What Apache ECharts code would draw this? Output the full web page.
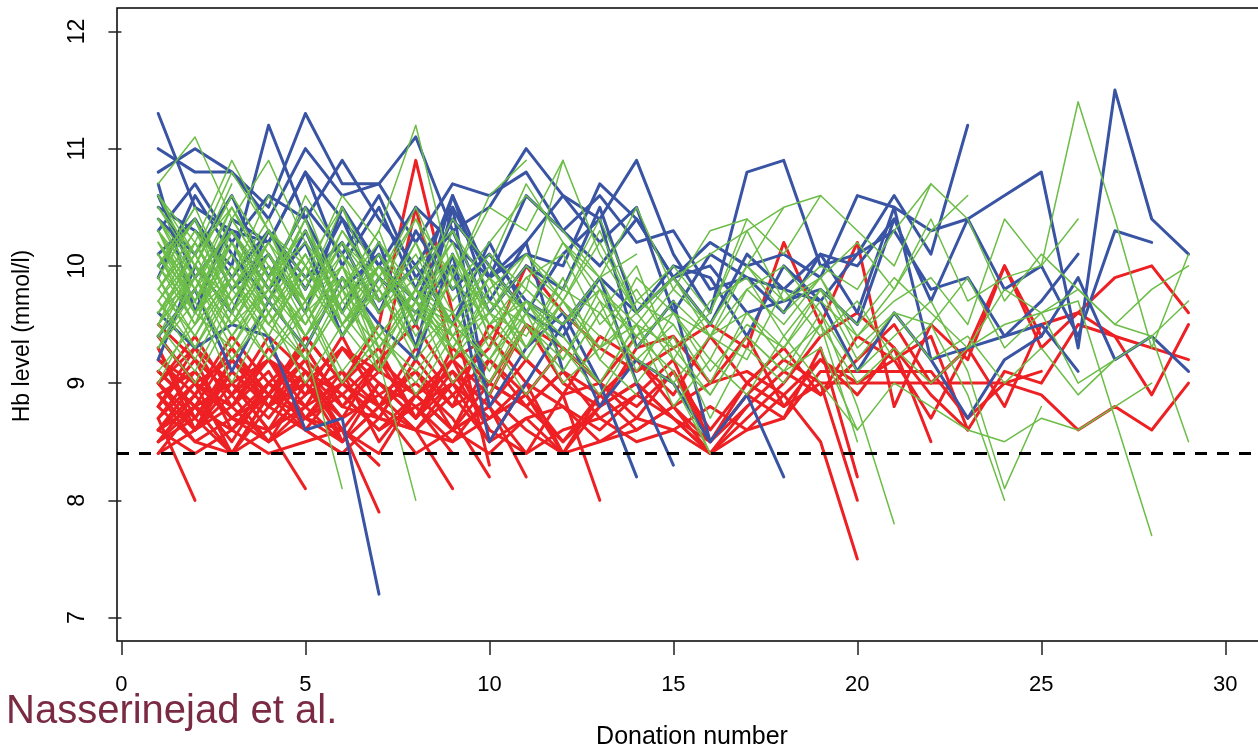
<!DOCTYPE html>
<html>
<head>
<meta charset="utf-8">
<script src="https://cdn.jsdelivr.net/npm/echarts@6/dist/echarts.min.js"></script>
<style>
html,body{margin:0;padding:0;background:#fff;overflow:hidden;}
#chart{width:1258px;height:748px;}
</style>
</head>
<body>
<div id="chart"></div>
<script>
// ---------------- DATA (Hb level per donation, each array starts at donation 1) ----------------
var xTicks = [0, 5, 10, 15, 20, 25, 30];
var yTicks = [7, 8, 9, 10, 11, 12];
var threshold = 8.4;
var xTitle = 'Donation number';
var yTitle = 'Hb level (mmol/l)';
var credit = 'Nasserinejad et al.';

// blue group (high)
var blue01 = [11.3,10.5,10.3,10.2,10.8,10.4,10.0,10.5,10.2,9.9,10.6,10.3,10.0,10.4,9.9,10.2,10.0,10.1,9.9,10.6,10.5,10.3,10.4,10.6,10.8,9.3,11.5,10.4,10.1];
var blue02 = [11.0,10.8,10.8,10.4,11.0,10.6,10.7,11.1,10.3,10.5,11.0,10.6,10.4,10.9,10.1,9.6,10.8,10.9,10.0,10.1,10.6,10.1,11.2];
var blue03 = [10.8,11.0,10.8,10.5,11.3,10.7,10.7,10.2,10.7,10.6,10.8,10.3,10.6,10.2,10.3,9.8,9.9,9.8,10.1,10.0,10.4,9.7,10.4,9.8,10.0,9.4,10.3,10.2];
var blue04 = [10.5,10.3,10.0,11.2,10.4,10.9,10.4,10.0,10.5,9.9,10.2,10.6,10.2,10.5,9.6,10.1,9.9,9.6,10.1,9.6,10.5,9.2,8.7,9.2,9.4,9.9,9.2,9.4,9.1];
var blue05 = [10.3,10.7,10.2,10.6,10.4,9.8,10.1,9.5,10.6,9.9,10.1,10.0,10.7,10.4,9.9,9.5,10.1,9.8,9.7,10.1,10.3,9.8,9.9,9.4,9.7,10.1];
var blue06 = [10.1,10.4,9.9,10.3,9.9,10.2,9.6,10.3,9.8,10.1,9.7,9.5,9.9,9.6,10.0,9.9,9.4,10.0,9.7,9.1,9.6,9.2,9.3,9.4,9.5,9.1];
var blue07 = [9.6,9.3,9.5,9.4,8.6,8.7,7.2];
var blue08 = [10.0,10.4,9.8,10.1,9.6,10.5,10.0,9.7,10.4,10.0,9.6,9.4,9.9,9.0,8.3];
var blue09 = [9.4,9.8,9.1,9.7,9.3,9.9,9.5,9.2,10.1,8.8,9.3,9.6,9.0,8.2];
var blue10 = [10.6,9.9,10.3,9.8,10.2,9.4,9.9,9.6,10.0,8.5,9.0,9.5,8.8,9.2,9.0,8.5,8.9,8.2];
var blue11 = [10.7,9.6,10.4,10.2,10.8,10.0,10.5,9.8,10.6,9.7,10.2,9.1];
var blue12 = [9.9,10.6,10.1,9.7,10.3,9.6,10.2,9.3,10.5,8.8];
var blue13 = [9.2,10.0,9.6,10.3,9.8,10.4,9.7,10.0,9.5,10.2,9.6,10.1,10.4,9.3,9.7,8.5];
var blue14 = [10.4,10.1,10.6,9.9,10.5,10.1,10.6,9.9,10.3,9.6,10.0,9.8,10.5,9.6,9.9,10.0,9.6,9.7,9.8,9.5,10.4];

// red group (low)
var red01 = [8.7,8.0];
var red02 = [8.9,9.1,8.7,8.6,8.1];
var red03 = [8.6,8.8,9.0,8.7,9.1,8.6,8.3];
var red04 = [9.0,8.6,9.2,8.9,8.7,8.6,7.9];
var red05 = [9.1,8.8,9.3,8.9,9.4,9.0,9.5,10.9,9.6,8.3];
var red06 = [8.8,9.2,8.6,9.0,8.8,9.3,9.1,10.5,9.2,9.4,9.0,8.4,8.9];
var red07 = [8.5,8.9,9.3,8.8,9.1,8.7,8.9,8.6,8.1];
var red08 = [9.3,8.6,9.0,9.2,8.9,9.4,8.8,9.0,8.7,8.2];
var red09 = [8.7,9.0,8.4,8.9,9.2,8.5,8.8,9.1,8.6,8.8,8.2];
var red10 = [9.2,9.0,8.8,9.3,8.9,9.1,8.5,8.9,9.2,8.6,8.4,8.9,8.0];
var red11 = [9.2,8.9,9.4,9.0,9.3,8.8,9.2,9.5,9.0,9.3,10.0,9.6,9.3,9.1,9.3,9.5,9.3,10.2,9.5,10.2,8.8,9.5,9.2,10.0,9.3,9.6,9.4,9.3,9.2];
var red12 = [8.6,8.9,8.5,9.0,8.7,9.1,8.8,8.6,9.0,8.7,8.9,8.5,8.8,9.0,8.7,8.5,8.9,8.7,9.1,9.1,9.1,9.1,8.7,9.0,8.9,8.6,8.8,8.6,9.0];
var red13 = [9.0,8.7,9.1,8.8,9.2,8.9,8.6,8.9,9.1,8.8,9.2,8.9,9.0,8.8,9.1,8.6,9.0,8.8,9.0,9.0,9.0,9.0,9.0,9.0,9.1];
var red14 = [9.4,9.0,8.8,9.2,9.0,9.3,8.9,9.1,8.8,9.5,9.2,8.9,9.4,9.2,8.9,9.4,9.0,9.3,8.9,9.4,9.2,8.7,9.3,8.8,9.5,9.6,9.9,10.0,9.6];
var red15 = [8.8,9.3,9.0,8.6,9.1,8.9,9.2,8.7,9.3,9.0,8.8,9.1,8.9,9.2,8.8,9.0,9.4,8.8,9.2,8.9,9.3,8.9,8.6,9.1,9.0,9.5,9.4,8.9,9.5];
var red16 = [9.0,9.4,8.9,9.2,8.8,9.3,9.0,8.7,9.2,8.9,9.5,9.0,8.8,9.3,9.4,9.0,9.1,8.9,8.5,7.5];
var red17 = [8.9,8.6,9.1,8.8,9.0,8.7,9.2,8.9,8.6,9.0,8.8,8.5,8.9,8.6,8.8,8.5,8.9,9.2,9.0,8.0];
var red18 = [9.1,8.8,8.6,9.0,8.7,8.9,8.6,8.8,9.0,8.7,9.0,8.8,8.6,8.9,8.7,8.4,8.6,8.7,9.3,8.2];
var red19 = [8.6,9.0,8.7,8.5,8.8,9.0,8.7,8.6,8.9,8.5,8.7,8.8,8.5,8.7,8.6,8.4,8.7,9.0,9.4,9.6,9.3,8.5];
var red20 = [8.5,8.7,8.4,8.6,8.8,8.5,8.8,8.4,8.6,8.8,8.4,8.6,8.7,8.5,8.6,8.8,8.6,8.9,9.2,9.0,9.2,9.4,8.6];
var red21 = [9.0,8.6,8.8,8.5,8.7,8.9,8.6,8.8,8.5,8.9,8.6,8.4,8.8,9.0,8.7,8.4,8.8];
var red22 = [8.6,8.8,8.4,8.8,8.6,8.4,8.7,8.6,8.5,8.7,8.9,8.4,8.5,8.6,8.8,8.4];
var red23 = [9.4,9.0,9.2,8.8,9.4,9.0,8.7,9.2,8.8,9.0,9.5,9.3,9.0,9.4];
var red24 = [8.4,8.8,8.6,8.4,8.5,8.6,8.4,8.9,8.6,8.4,8.7,8.4];
var red25 = [9.5,9.2,8.9,9.4,9.1,8.8,8.7,9.2];
var red26 = [8.6,8.4,8.6,8.9,8.6,8.4];
var red27 = [8.9,8.5,8.4,8.9];
var red28 = [9.1,8.8,8.4];
var red29 = [8.5,8.8,9.0,8.6,8.9];
var red30 = [8.8,8.5,8.7,9.0,8.7,8.5,9.0,8.8,8.4];
var red31 = [8.4,8.6,8.9,8.5,9.0,8.6,9.0,8.7,9.0,8.5,9.0];
var red32 = [9.3,8.7,9.2,8.8,9.0,8.5];
var red33 = [9.0,9.3,8.8,9.1,8.6,9.0,9.3,8.7,9.1,8.6];
var red34 = [8.7,9.1,8.7,8.9,9.3,8.8,9.1,8.9,8.6,9.2,8.8,9.1,8.7,8.9,9.2,8.5,9.0,9.3];
var red35 = [8.8,9.2,8.9,9.2,8.7,9.0,8.8,9.3,8.9,9.2,8.9,9.3,9.0,8.7,9.1,8.5,8.8,9.1,8.9,9.2,9.5,9.0,9.3,10.0,9.4];

// green group (middle)
var green01 = [10.7,11.1,10.4,10.9,10.2,9.8,10.3,11.2,9.9,10.5,10.3,10.9,10.1,9.6,9.9];
var green02 = [10.1,9.7,10.4,9.9,10.2,9.6,10.0,9.5,10.3,9.8,10.1,9.7,10.2,9.6,9.9,9.4,10.0,9.7,9.9,10.2,9.8,10.4,9.7,9.9,10.0,11.4,10.4,9.3,10.1];
var green03 = [9.8,10.2,9.6,10.0,9.4,9.9,9.7,10.1,9.5,9.9,9.3,9.8,9.6,10.0,9.2,9.7,9.9,9.4,9.8,9.5,9.9,9.6,9.3,9.8,9.6,9.7,8.7,7.7];
var green04 = [9.5,9.9,10.3,9.7,10.1,9.5,9.8,9.3,10.0,9.6,9.4,9.9,9.2,9.7,9.5,9.0,9.6,9.3,9.8,9.2,9.6,9.5,8.9,8.0];
var green05 = [10.3,9.6,9.9,10.4,9.7,10.0,9.4,9.8,10.2,9.5,9.9,9.6,9.3,9.9,9.6,9.2,9.8,10.0,9.6,9.1,9.4,9.7,9.1,8.1,8.8];
var green06 = [9.6,10.1,9.5,9.8,9.2,9.7,10.0,9.4,9.9,9.3,9.7,9.5,9.8,9.1,9.6,9.4,9.2,9.8,9.4,9.7,9.2,9.5,9.9,9.3,9.6,9.8,9.5,9.4,8.5];
var green07 = [10.0,9.5,10.2,9.8,10.4,9.6,10.1,9.7,9.5,10.0,9.6,10.2,9.8,9.5,9.9,10.1,10.3,9.7,10.0,9.8,10.3,10.7,10.4,9.7,10.1,9.8,9.5,9.8,10.0];
var green08 = [9.7,9.3,9.9,9.5,10.0,9.4,9.8,9.2,9.6,9.1,9.7,9.4,9.0,9.5,9.3,8.9,9.4,9.1,9.6,8.8,7.8];
var green09 = [10.5,10.1,10.8,10.3,9.9,10.6,10.2,9.8,10.4,10.0,10.7,10.2,9.9,10.5,9.8,10.3,10.4,10.1,10.6,10.3,10.0,10.7];
var green10 = [9.4,9.8,9.2,9.7,9.3,9.9,9.1,9.6,9.4,8.9,9.5,9.2,9.7,9.0,9.4,8.7,9.3,9.0,9.5,8.5];
var green11 = [9.9,10.4,9.6,10.2,9.8,10.5,9.7,10.0,10.3,9.6,10.1,9.8,10.4,9.7,10.0,9.6,10.3,10.5,10.6];
var green12 = [10.2,9.8,10.5,9.9,10.3,9.6,10.0,9.7,10.2,9.4,9.9,10.1,9.5,9.8,9.3,9.6,10.4];
var green13 = [9.3,9.7,9.0,9.6,9.2,9.8,9.4,9.0,9.5,9.2,9.7,9.3,8.9,9.4,9.1,8.4];
var green14 = [10.4,10.0,10.6,10.1,9.7,10.3,9.9,10.5,9.8,10.2,10.6,10.3,9.9,10.1];
var green15 = [9.6,10.0,9.4,9.9,9.5,10.1,9.3,9.8,9.6,9.2,9.7,9.4,9.0];
var green16 = [10.0,10.5,9.8,10.3,9.6,10.2,9.9,10.4,9.7,10.1,9.8,10.9];
var green17 = [10.3,9.9,10.5,10.0,9.7,10.2,9.8,10.4,9.9,10.6,10.9];
var green18 = [9.8,10.3,9.7,10.1,9.5,10.0,9.6,10.2,9.4,9.9];
var green19 = [10.1,9.6,10.2,9.7,10.4,9.5,9.9,9.3,9.6];
var green20 = [9.5,9.9,9.3,9.8,9.4,10.0,9.2,8.0];
var green21 = [10.6,10.2,10.9,10.3,10.0,10.5,9.9];
var green22 = [9.7,10.1,9.5,10.0,9.3,8.1];
var green23 = [10.3,9.7,10.2,9.6,10.1];
var green24 = [9.9,10.4,9.8,10.2];
var green25 = [9.4,10.0,9.6];
var green26 = [10.0,10.5];
var green27 = [9.1,9.5,9.9,9.3,9.7,9.0,9.4,9.8,9.2,9.6];
var green28 = [10.4,9.9,10.3,9.8,10.6,10.1,9.7,10.2,9.6,10.0,9.5];
var green29 = [9.7,10.2,9.6,10.0,9.4,9.8,10.3,9.5,10.1,9.7,9.3,9.9];
var green30 = [10.2,9.6,10.1,9.5,9.9,9.4,10.0,9.6,9.3,9.8,9.2,9.7,9.4];
var green31 = [9.5,10.0,9.7,10.2,9.6,9.9,9.4,9.8,9.3,9.7,9.5,9.1,9.6,9.2,9.5];
var green32 = [10.6,10.1,10.5,9.9,10.3,9.8,10.2,9.7,10.1,9.6,10.0,9.7,10.3,9.6,9.9,9.5,10.0,10.5];
var green33 = [9.9,9.4,10.0,9.6,10.1,9.5,9.8,9.3,9.9,9.5,9.7,9.2,9.8,9.4,9.6,9.1,9.5,9.3,9.7,9.4,9.8,10.3,10.6];
var green34 = [10.0,10.4,9.8,10.3,9.7,10.1,9.6,10.0,9.5,9.9,9.6,10.2,9.7,9.4,9.8,9.5,10.0,9.6,9.9,9.4,9.7,9.9,9.5,10.4,10.0,10.4];
var green35 = [9.6,9.9,9.4,9.8,9.5,10.0,9.3,9.7,9.4,9.6,9.2,9.7,9.3,9.5,9.0,9.4,9.6,9.2,9.5,9.0,9.3,9.0,9.3,9.5,9.6,9.0,9.2];
var green36 = [10.2,9.7,10.1,9.6,10.0,9.5,9.9,9.6,10.1,9.4,9.8,9.5,9.9,9.3,9.7,9.4,9.8,9.5,9.9,9.3,9.6,9.2,9.4,9.0,9.3,8.9,9.2,9.4,9.7];
var green37 = [9.3,9.8,9.2,9.6,9.0,9.5,9.1,9.7,9.0,9.4,8.9,9.3,9.0,9.5,8.8,9.2,8.9,9.4,9.0,8.6,9.0,8.8,8.6,8.5,8.7,8.6,8.8,9.0];
var green38 = [10.6,10.0,10.7];
var green39 = [9.3,9.9,9.5,10.1];
var green40 = [10.1,9.5,10.3,9.8,10.4];
var green41 = [9.8,10.3,9.9,10.6,10.0,9.6];
var green42 = [9.5,10.2,9.7,10.1,9.6,10.3,9.8];
var green43 = [10.4,9.8,10.4,9.9,10.5,9.7,10.1,9.5];
var green44 = [9.0,9.6,9.3,9.9,9.4,9.8,9.1,9.7,9.3];
var green45 = [10.5,10.0,10.6,10.1,9.7];
var green46 = [9.7,9.2,9.8,9.4,10.0,9.5];
var green47 = [10.2,9.7,10.3,9.9];
var green48 = [9.9,9.3,9.8];
var green49 = [10.0,9.6,10.0,9.5,9.9,9.4,9.9];
var green50 = [9.6,10.1,9.5,10.0,9.7,10.2,9.6,9.9,9.5];
var green51 = [10.3,9.8,10.2,9.6,10.1,9.5,10.0,9.7,9.2,9.8];
var green52 = [9.4,9.0,9.6,9.2,9.7,9.1,9.5,8.9,9.4,9.0,9.6,9.3];
var green53 = [10.1,9.5,9.9,9.4,10.0,9.6,9.2,9.8,9.5,9.9,9.3,9.7,9.2,8.9];
var green54 = [9.8,9.4,9.9,9.5,9.2,9.7,9.3,9.8,9.4,9.0,9.5,9.1,9.6,9.2,9.0,8.4];
var green55 = [9.5,9.1,9.7,9.2,9.6,9.0,9.4,9.1,9.5,9.2,9.6,9.0,9.3,9.6,9.2,8.9,9.4,9.1,9.3,8.6];

var blueGroup = [blue01,blue02,blue03,blue04,blue05,blue06,blue07,blue08,blue09,blue10,blue11,blue12,blue13,blue14];
var redGroup = [red01,red02,red03,red04,red05,red06,red07,red08,red09,red10,red11,red12,red13,red14,red15,red16,red17,red18,red19,red20,red21,red22,red23,red24,red25,red26,red27,red28,red29,red30,red31,red32,red33,red34,red35];
var greenGroup = [green01,green02,green03,green04,green05,green06,green07,green08,green09,green10,green11,green12,green13,green14,green15,green16,green17,green18,green19,green20,green21,green22,green23,green24,green25,green26,green27,green28,green29,green30,green31,green32,green33,green34,green35,green36,green37,green38,green39,green40,green41,green42,green43,green44,green45,green46,green47,green48,green49,green50,green51,green52,green53,green54,green55];

// ---------------- CHART ----------------
var FONT = '"Liberation Sans", Arial, Helvetica, sans-serif';
var BLUE = '#3a54a4', RED = '#ed2024', GREEN = '#6cbd47';

function mkSeries(arr, color, width, z) {
  return {
    type: 'line',
    data: arr.map(function (v, i) { return [i + 1, v]; }),
    symbol: 'none',
    silent: true,
    animation: false,
    z: z,
    lineStyle: { color: color, width: width, cap: 'round', join: 'round' }
  };
}

var series = [];
redGroup.forEach(function (a) { series.push(mkSeries(a, RED, 3, 2)); });
blueGroup.forEach(function (a) { series.push(mkSeries(a, BLUE, 3, 3)); });
greenGroup.forEach(function (a) { series.push(mkSeries(a, GREEN, 1.5, 4)); });
series.push({
  type: 'line', data: [], silent: true, animation: false, z: 5,
  markLine: {
    silent: true, symbol: ['none', 'none'], animation: false,
    label: { show: false },
    lineStyle: { color: '#000', width: 3, type: [12, 10] },
    data: [{ yAxis: threshold }]
  }
});

var chart = echarts.init(document.getElementById('chart'), null, { renderer: 'canvas' });
chart.setOption({
  backgroundColor: '#fff',
  animation: false,
  grid: {
    show: true, borderColor: '#000', borderWidth: 1.5, backgroundColor: 'transparent',
    left: 117, top: 8, right: -3, bottom: 107,
    containLabel: false, outerBoundsMode: 'none'
  },
  xAxis: {
    type: 'value', min: -0.12, max: 30.97,
    axisLine: { show: false },
    splitLine: { show: false },
    axisTick: { show: true, length: 14, customValues: xTicks, lineStyle: { color: '#222', width: 1.5 } },
    axisLabel: { show: true, customValues: xTicks, margin: 33, fontFamily: FONT, fontSize: 22, color: '#000' }
  },
  yAxis: {
    type: 'value', min: 6.8, max: 12.2,
    axisLine: { show: false },
    splitLine: { show: false },
    axisTick: { show: true, length: 13, customValues: yTicks, lineStyle: { color: '#222', width: 1.5 } },
    axisLabel: { show: true, customValues: yTicks, rotate: 90, margin: 28, fontFamily: FONT, fontSize: 23, color: '#000' }
  },
  graphic: [
    {
      type: 'text', left: 6, top: 692, silent: true,
      style: { text: credit, fontFamily: FONT, fontSize: 40, fill: '#7b2a43' }
    },
    {
      type: 'text', x: 692, y: 737, silent: true,
      style: { text: xTitle, fontFamily: FONT, fontSize: 25, fill: '#000', align: 'center', verticalAlign: 'middle' }
    },
    {
      type: 'text', x: 23, y: 336, rotation: Math.PI / 2, silent: true,
      style: { text: yTitle, fontFamily: FONT, fontSize: 23, fill: '#000', align: 'center', verticalAlign: 'middle' }
    }
  ],
  series: series
});
</script>
</body>
</html>
